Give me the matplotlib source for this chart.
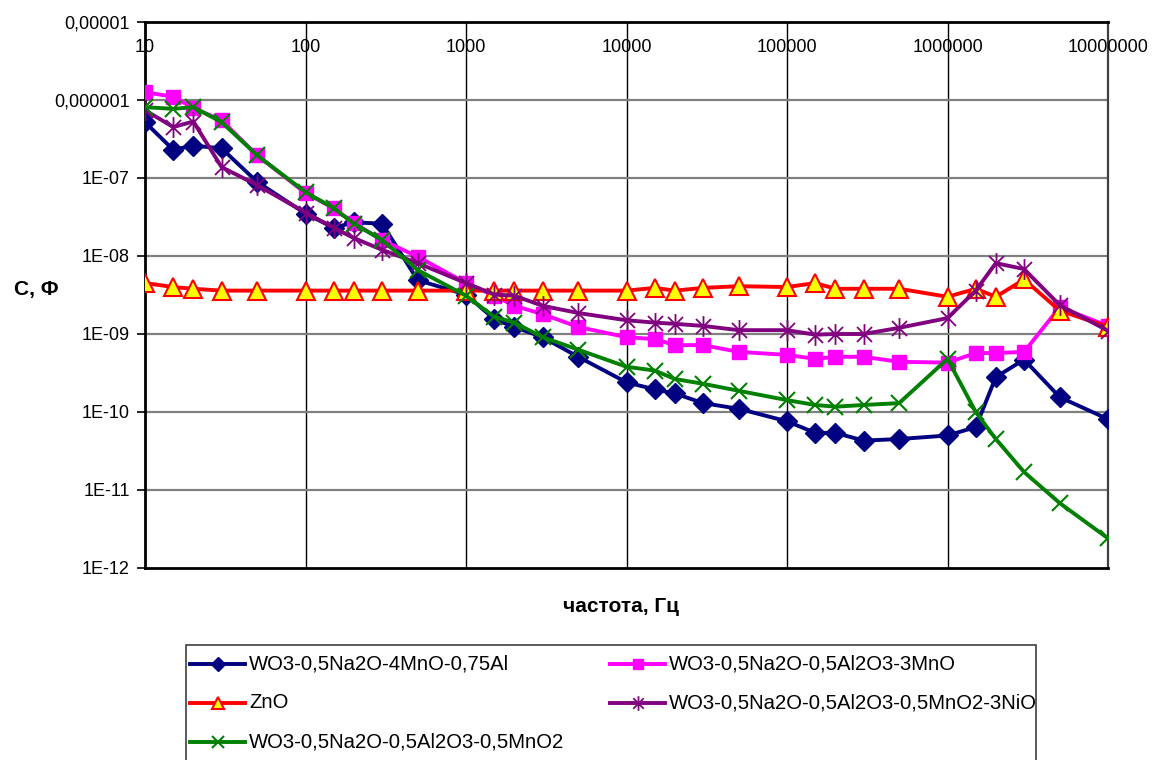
import matplotlib
matplotlib.use("Agg")
import matplotlib.pyplot as plt
from matplotlib.lines import Line2D
from matplotlib.patches import Rectangle
from matplotlib.path import Path
import matplotlib.transforms as mtransforms
from matplotlib import font_manager

plt.rcParams['font.family'] = ['Liberation Sans', 'DejaVu Sans']

# Frequency grid, Hz
freq = [10, 15, 20, 30, 50, 100, 150, 200, 300, 500,
        1000, 1500, 2000, 3000, 5000,
        1e4, 1.5e4, 2e4, 3e4, 5e4,
        1e5, 1.5e5, 2e5, 3e5, 5e5,
        1e6, 1.5e6, 2e6, 3e6, 5e6, 1e7]

# Capacitance, F
c_mno_al = [5.2e-7, 2.3e-7, 2.6e-7, 2.4e-7, 8.9e-8, 3.5e-8, 2.3e-8, 2.7e-8, 2.6e-8, 4.9e-9,
            3.2e-9, 1.55e-9, 1.23e-9, 9.1e-10, 5.1e-10,
            2.4e-10, 1.95e-10, 1.73e-10, 1.3e-10, 1.1e-10,
            7.6e-11, 5.4e-11, 5.4e-11, 4.3e-11, 4.5e-11,
            5.0e-11, 6.4e-11, 2.8e-10, 4.7e-10, 1.55e-10, 8.1e-11]

c_al2o3_mno = [1.26e-6, 1.1e-6, 7.9e-7, 5.5e-7, 1.95e-7, 6.4e-8, 4.1e-8, 2.65e-8, 1.6e-8, 9.8e-9,
               4.5e-9, 3.1e-9, 2.3e-9, 1.8e-9, 1.23e-9,
               9.1e-10, 8.6e-10, 7.2e-10, 7.2e-10, 5.9e-10,
               5.4e-10, 4.8e-10, 5.1e-10, 5.1e-10, 4.4e-10,
               4.3e-10, 5.7e-10, 5.7e-10, 5.9e-10, 2.2e-9, 1.27e-9]

c_zno = [4.5e-9, 4.0e-9, 3.8e-9, 3.6e-9, 3.6e-9, 3.6e-9, 3.6e-9, 3.6e-9, 3.6e-9, 3.6e-9,
         3.6e-9, 3.6e-9, 3.6e-9, 3.6e-9, 3.6e-9,
         3.6e-9, 3.9e-9, 3.6e-9, 3.9e-9, 4.1e-9,
         4.0e-9, 4.5e-9, 3.8e-9, 3.8e-9, 3.8e-9,
         3.0e-9, 3.8e-9, 3.0e-9, 5.0e-9, 2.0e-9, 1.23e-9]

c_nio = [7.4e-7, 4.5e-7, 5.3e-7, 1.38e-7, 8.1e-8, 3.6e-8, 2.3e-8, 1.7e-8, 1.2e-8, 8.1e-9,
         4.5e-9, 3.2e-9, 3.1e-9, 2.3e-9, 1.86e-9,
         1.5e-9, 1.4e-9, 1.35e-9, 1.27e-9, 1.12e-9,
         1.12e-9, 0.98e-9, 1.0e-9, 1.0e-9, 1.2e-9,
         1.6e-9, 3.6e-9, 8.1e-9, 6.8e-9, 2.35e-9, 1.1e-9]

c_mno2 = [8.1e-7, 7.7e-7, 8.1e-7, 5.2e-7, 1.95e-7, 6.6e-8, 4.1e-8, 2.6e-8, 1.6e-8, 6.6e-9,
          3.1e-9, 1.66e-9, 1.4e-9, 9.1e-10, 6.3e-10,
          3.8e-10, 3.4e-10, 2.65e-10, 2.3e-10, 1.87e-10,
          1.42e-10, 1.23e-10, 1.17e-10, 1.23e-10, 1.3e-10,
          4.8e-10, 1.0e-10, 4.5e-11, 1.7e-11, 6.8e-12, 2.4e-12]

labels = ["WO3-0,5Na2O-4MnO-0,75Al",
          "WO3-0,5Na2O-0,5Al2O3-3MnO",
          "ZnO",
          "WO3-0,5Na2O-0,5Al2O3-0,5MnO2-3NiO",
          "WO3-0,5Na2O-0,5Al2O3-0,5MnO2"]

x_ticks = [10, 100, 1000, 1e4, 1e5, 1e6, 1e7]
x_tick_labels = ["10", "100", "1000", "10000", "100000", "1000000", "10000000"]
y_ticks = [1e-12, 1e-11, 1e-10, 1e-9, 1e-8, 1e-7, 1e-6, 1e-5]
y_tick_labels = ["1E-12", "1E-11", "1E-10", "1E-09", "1E-08", "1E-07", "0,000001", "0,00001"]

# condensed face for the axis numbers when it is installed
installed = {f.name for f in font_manager.fontManager.ttflist}
if "Liberation Sans Narrow" in installed:
    tick_font = dict(family="Liberation Sans Narrow", size=15.5)
else:
    tick_font = dict(family="Liberation Sans", size=13)

# asterisk marker: vertical bar plus a diagonal cross
ast = Path([(0, -1), (0, 1), (-0.72, -0.72), (0.72, 0.72), (-0.72, 0.72), (0.72, -0.72)],
           [Path.MOVETO, Path.LINETO] * 3)

styles = [
    dict(color="#000080", marker="D", ms=10, mfc="#000080", mec="#000080", mew=1),
    dict(color="#FF00FF", marker="s", ms=10, mfc="#FF00FF", mec="#FF00FF", mew=1),
    dict(color="#FF0000", marker="^", ms=12.5, mfc="#FFFF00", mec="#FF0000", mew=1.5),
    dict(color="#800080", marker=ast, ms=15, mfc="none", mec="#800080", mew=1.3),
    dict(color="#008000", marker="x", ms=12, mfc="none", mec="#008000", mew=1.5),
]
series = [c_mno_al, c_al2o3_mno, c_zno, c_nio, c_mno2]

W, H = 1153, 760
fig = plt.figure(figsize=(W / 100, H / 100), dpi=100)
L, R, T, B = 145, 1108, 22, 568
ax = fig.add_axes([L / W, 1 - B / H, (R - L) / W, (B - T) / H])

for i, (vals, st) in enumerate(zip(series, styles)):
    ax.plot(freq, vals, lw=2.8, solid_joinstyle="round", zorder=3 + i, **st)

ax.set_xscale("log")
ax.set_yscale("log")
ax.set_xlim(10, 1e7)
ax.set_ylim(1e-12, 1e-5)

# grid: black verticals, grey horizontals
for xv in x_ticks[1:-1]:
    ax.axvline(xv, color="black", lw=1.0, zorder=1)
for yv in y_ticks[1:-1]:
    ax.axhline(yv, color="#808080", lw=1.6, zorder=1)

ax.set_yticks(y_ticks)
ax.set_yticklabels(y_tick_labels, fontfamily=tick_font["family"], fontsize=tick_font["size"])
ax.yaxis.set_minor_locator(matplotlib.ticker.NullLocator())
ax.xaxis.set_minor_locator(matplotlib.ticker.NullLocator())
ax.set_xticks(x_ticks)
ax.set_xticklabels([])
ax.tick_params(axis="y", which="major", length=6, width=1.2, direction="out", pad=5)
ax.tick_params(axis="x", which="major", length=0, top=False, bottom=False)

# frequency labels sit just under the top edge
trans = mtransforms.blended_transform_factory(ax.transData, ax.transAxes)
for xv, lab in zip(x_ticks, x_tick_labels):
    ax.text(xv, 1 - 25 / (B - T), lab, transform=trans, ha="center", va="center",
            fontfamily=tick_font["family"], fontsize=tick_font["size"])

for side in ["left", "top", "bottom"]:
    ax.spines[side].set_color("black")
    ax.spines[side].set_linewidth(2)
ax.spines["right"].set_color("#404040")
ax.spines["right"].set_linewidth(1.6)

fig.text(14 / W, 1 - 290 / H, "С, Ф", ha="left", va="center", fontsize=15,
         fontweight="bold")
fig.text(621 / W, 1 - 607 / H, "частота, Гц", ha="center", va="center",
         fontsize=15, fontweight="bold")

# legend box (extends past the lower edge)
fig.add_artist(Rectangle((186 / W, 1 - 800 / H), (1036 - 186) / W, (800 - 645) / H,
                         transform=fig.transFigure, fill=False, edgecolor="#404040",
                         lw=1.2))
cols = [190, 610]
rows = [664, 703, 742]
slots = [(0, 0), (1, 0), (0, 1), (1, 1), (0, 2)]
for (ci, ri), lab, st in zip(slots, labels, styles):
    x0 = cols[ci]
    y0 = 1 - rows[ri] / H
    fig.add_artist(Line2D([x0 / W, (x0 + 55) / W], [y0, y0], transform=fig.transFigure,
                          color=st["color"], lw=2.8))
    mst = dict(st)
    mst.pop("color")
    mst["ms"] = mst["ms"] * 0.7
    fig.add_artist(Line2D([(x0 + 27.5) / W], [y0], transform=fig.transFigure,
                          linestyle="none", **mst))
    fig.text((x0 + 59) / W, y0, lab, ha="left", va="center", fontsize=14.6)

fig.savefig("out.png", dpi=100)
